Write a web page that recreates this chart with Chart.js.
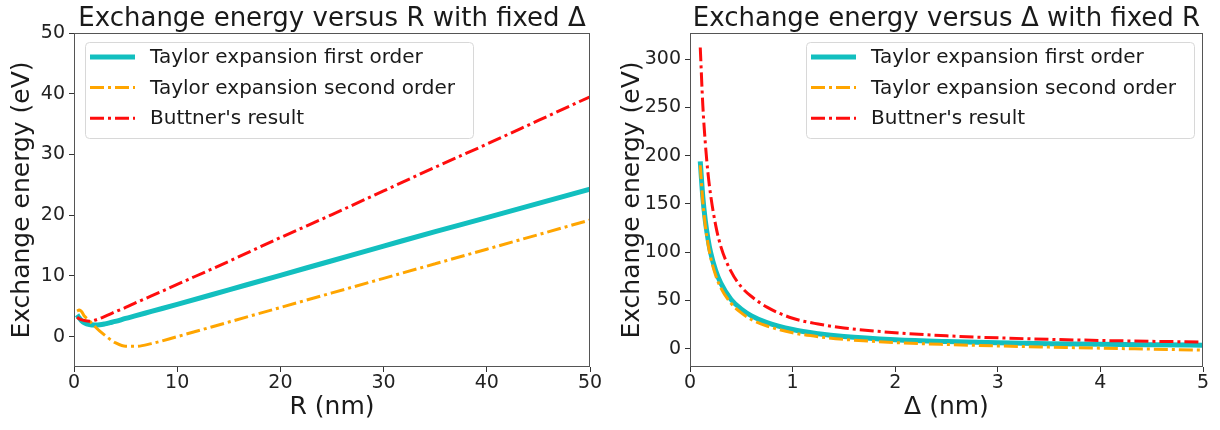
<!DOCTYPE html>
<html>
<head>
<meta charset="utf-8">
<script src="https://cdn.jsdelivr.net/npm/chart.js@4.4.0/dist/chart.umd.min.js"></script>
<style>
  html, body { margin: 0; padding: 0; background: #fff; }
  #wrap { display: flex; width: 1220px; height: 430px; }
  canvas { display: block; }
</style>
</head>
<body>
<div id="wrap">
  <canvas id="left" width="610" height="430"></canvas>
  <canvas id="right" width="610" height="430"></canvas>
</div>
<script>
// left panel: energy vs R (nm), fixed delta
const rValues   = [0.3, 0.5, 0.75, 1, 1.5, 2, 2.5, 3, 3.5, 4, 5, 6, 7.5, 10, 15, 20, 25, 30, 35, 40, 45, 50];
const rFirst    = [3.6, 3.1, 2.6, 2.3, 2.0, 1.92, 1.95, 2.1, 2.3, 2.5, 3.0, 3.45, 4.15, 5.3, 7.7, 10.1, 12.5, 14.9, 17.3, 19.6, 21.95, 24.3];
const rSecond   = [4.2, 4.4, 4.1, 3.4, 2.6, 1.7, 0.9, 0.2, -0.45, -1.0, -1.6, -1.6, -1.15, 0.0, 2.4, 4.8, 7.2, 9.6, 12.0, 14.4, 16.8, 19.2];
const rButtner  = [3.2, 2.95, 2.75, 2.65, 2.55, 2.7, 3.0, 3.35, 3.72, 4.1, 4.8, 5.6, 6.7, 8.6, 12.4, 16.3, 20.1, 24.0, 27.9, 31.7, 35.6, 39.5];
const rTicksX   = [0, 10, 20, 30, 40, 50];
const rTicksY   = [0, 10, 20, 30, 40, 50];

// right panel: energy vs delta (nm), fixed R
const dValues   = [0.1, 0.125, 0.15, 0.175, 0.2, 0.25, 0.3, 0.4, 0.5, 0.6, 0.75, 1, 1.25, 1.5, 2, 2.5, 3, 3.5, 4, 4.5, 5];
const dFirst    = [194, 157, 132, 114, 100, 81, 68, 51, 41, 34, 27, 19.8, 15.5, 12.6, 9.3, 7.4, 6.1, 5.2, 4.5, 4.0, 3.6];
const dSecond   = [190, 152, 127, 109, 95, 76, 63, 47, 37, 30, 23.5, 16.5, 12.3, 9.6, 6.3, 4.3, 2.8, 1.6, 0.5, -0.5, -1.5];
const dButtner  = [312, 252, 212, 182, 160, 128, 106, 80, 64, 54, 43, 31.5, 25.5, 21.5, 16.5, 13.3, 11.2, 9.7, 8.5, 7.6, 6.9];
const dTicksX   = [0, 1, 2, 3, 4, 5];
const dTicksY   = [0, 50, 100, 150, 200, 250, 300];

const seriesNames = ['Taylor expansion first order', 'Taylor expansion second order', "Buttner's result"];

Chart.defaults.font.family = "'DejaVu Sans', sans-serif";
Chart.defaults.color = '#222';

const dashDot = [14, 4, 3, 4];

function pts(xs, ys) {
  return xs.map((x, i) => ({ x: x, y: ys[i] }));
}

function makeDatasets(xs, a, b, c) {
  return [
    { label: seriesNames[0], data: pts(xs, a), borderColor: '#12bfbf', borderWidth: 5, order: 3 },
    { label: seriesNames[1], data: pts(xs, b), borderColor: '#ffa500', borderWidth: 3, borderDash: dashDot, order: 2 },
    { label: seriesNames[2], data: pts(xs, c), borderColor: '#ff0d0d', borderWidth: 3, borderDash: dashDot, order: 1 }
  ];
}

// axes frame on all four sides
const framePlugin = {
  id: 'frame',
  afterDraw(chart) {
    const { ctx, chartArea: a } = chart;
    ctx.save();
    ctx.strokeStyle = '#555';
    ctx.lineWidth = 1;
    ctx.strokeRect(Math.round(a.left) + 0.5, Math.round(a.top) + 0.5,
                   Math.round(a.right - a.left) - 1, Math.round(a.bottom - a.top) - 1);
    ctx.restore();
  }
};

const titlePlugin = {
  id: 'panelTitle',
  afterDraw(chart, args, opts) {
    const { ctx, chartArea: a } = chart;
    ctx.save();
    ctx.fillStyle = '#1a1a1a';
    ctx.font = "26px 'DejaVu Sans'";
    ctx.textAlign = 'center';
    ctx.textBaseline = 'alphabetic';
    ctx.fillText(opts.text, (a.left + a.right) / 2, 26);
    ctx.restore();
  }
};

const legendPlugin = {
  id: 'boxLegend',
  afterDatasetsDraw(chart, args, opts) {
    const { ctx, chartArea: a } = chart;
    const w = 388, h = 96;
    const x0 = opts.side === 'left' ? a.left + 11 : a.right - 9 - w;
    const y0 = a.top + 9;
    ctx.save();
    ctx.fillStyle = 'rgba(255,255,255,0.85)';
    ctx.strokeStyle = '#d8d8d8';
    ctx.lineWidth = 1;
    ctx.beginPath();
    ctx.roundRect(x0 + 0.5, y0 + 0.5, w, h, 4);
    ctx.fill();
    ctx.stroke();
    chart.data.datasets.forEach((ds, i) => {
      const cy = y0 + 15 + i * 30.6;
      ctx.strokeStyle = ds.borderColor;
      ctx.lineWidth = ds.borderWidth;
      ctx.setLineDash(ds.borderDash || []);
      ctx.beginPath();
      ctx.moveTo(x0 + 5, cy);
      ctx.lineTo(x0 + 50, cy);
      ctx.stroke();
      ctx.setLineDash([]);
      ctx.fillStyle = '#1a1a1a';
      ctx.font = "20px 'DejaVu Sans'";
      ctx.textAlign = 'left';
      ctx.textBaseline = 'middle';
      ctx.fillText(ds.label, x0 + 65, cy + 1);
    });
    ctx.restore();
  }
};

function axis(opts) {
  return {
    type: 'linear',
    min: opts.min,
    max: opts.max,
    afterBuildTicks: s => { s.ticks = opts.ticks.map(v => ({ value: v })); },
    afterFit: opts.fit,
    grid: { drawOnChartArea: false, drawTicks: true, tickLength: 5, tickColor: '#333' },
    border: { display: false },
    ticks: { font: { size: 19, lineHeight: 1.0 }, padding: opts.tickPad, color: '#222', maxRotation: 0, autoSkip: false },
    title: { display: true, text: opts.title, font: { size: 25 }, color: '#1a1a1a', padding: opts.titlePad }
  };
}

function makeChart(id, cfg) {
  return new Chart(document.getElementById(id), {
    type: 'line',
    data: { datasets: cfg.datasets },
    options: {
      responsive: false,
      animation: false,
      devicePixelRatio: 1,
      layout: { padding: { top: cfg.top, right: cfg.right, left: 0, bottom: 0 } },
      elements: {
        point: { radius: 0 },
        line: { cubicInterpolationMode: 'monotone', borderCapStyle: 'butt', fill: false }
      },
      plugins: {
        legend: { display: false },
        tooltip: { enabled: false },
        panelTitle: { text: cfg.title },
        boxLegend: { side: cfg.legendSide }
      },
      scales: {
        x: axis({ min: cfg.xMin, max: cfg.xMax, ticks: cfg.xTicks, title: cfg.xTitle,
                  tickPad: 2, titlePad: { top: 0, bottom: 8 },
                  fit: s => { s.height = 63; } }),
        y: axis({ min: cfg.yMin, max: cfg.yMax, ticks: cfg.yTicks, title: 'Exchange energy (eV)',
                  tickPad: 4, titlePad: { top: 7, bottom: 0 },
                  fit: s => { s.width = cfg.yWidth; } })
      }
    },
    plugins: [framePlugin, titlePlugin, legendPlugin]
  });
}

makeChart('left', {
  datasets: makeDatasets(rValues, rFirst, rSecond, rButtner),
  title: 'Exchange energy versus R with fixed \u0394',
  xTitle: 'R (nm)',
  xMin: 0, xMax: 50, yMin: -5, yMax: 50,
  xTicks: rTicksX, yTicks: rTicksY,
  top: 33, right: 20, yWidth: 74,
  legendSide: 'left'
});

makeChart('right', {
  datasets: makeDatasets(dValues, dFirst, dSecond, dButtner),
  title: 'Exchange energy versus \u0394 with fixed R',
  xTitle: '\u0394 (nm)',
  xMin: 0, xMax: 5, yMin: -19, yMax: 327,
  xTicks: dTicksX, yTicks: dTicksY,
  top: 33, right: 17, yWidth: 80,
  legendSide: 'right'
});
</script>
</body>
</html>
